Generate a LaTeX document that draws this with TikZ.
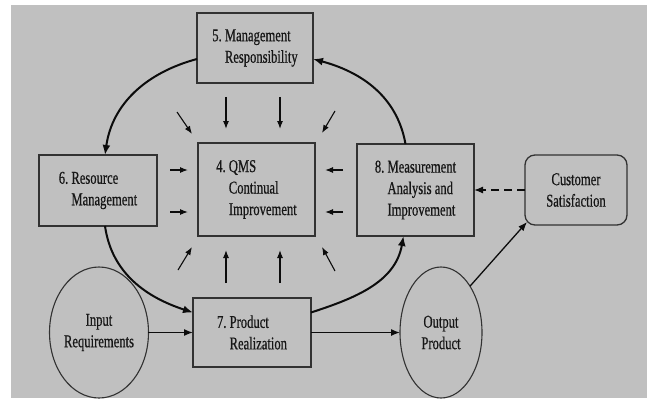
\documentclass[tikz,border=0pt]{standalone}
\usepackage{fontspec}
\setmainfont{Liberation Serif}[FakeStretch=0.70, FakeBold=0.6]
\usetikzlibrary{shapes.geometric,arrows.meta,calc}

\definecolor{bg}{RGB}{192,192,192}
\definecolor{boxline}{RGB}{50,50,50}
\definecolor{ink}{RGB}{22,22,22}
\definecolor{flow}{RGB}{12,12,12}

\begin{document}
\begin{tikzpicture}[x=1pt,y=-1pt,
  box/.style={draw=boxline, line width=1.3pt, inner sep=0pt, outer sep=0pt,
    align=left, text=ink, font=\fontsize{18}{21.5}\selectfont},
  oval/.style={box, ellipse, line width=1.1pt, align=center, minimum width=82pt, minimum height=131pt},
  cycle/.style={draw=flow, line width=2pt, -{Latex[length=10pt,width=8pt]}},
  link/.style={draw=flow, line width=1.3pt, -{Latex[length=9pt,width=7pt]}},
  push/.style={draw=flow, line width=1.1pt, -{Latex[length=8pt,width=6pt]}}]

% canvas
\fill[white] (0,0) rectangle (647,401);
\fill[bg] (11,5) rectangle (647,398);
\useasboundingbox (0,0) rectangle (647,401);

% process boxes
\node[box, minimum width=116pt, minimum height=70pt] (mgmt) at (255,48)
  {5.~Management\\\phantom{5.~}Responsibility};
\node[box, minimum width=118pt, minimum height=71pt] (res) at (98,190.5)
  {6.~Resource\\\phantom{6.~}Management};
\node[box, minimum width=117pt, minimum height=93pt] (qms) at (256.5,189.5)
  {4.~QMS\\\phantom{4.~}Continual\\\phantom{4.~}Improvement};
\node[box, minimum width=117pt, minimum height=92pt] (meas) at (415.5,190)
  {8.~Measurement\\\phantom{8.~}Analysis and\\\phantom{8.~}Improvement};
\node[box, minimum width=118pt, minimum height=69pt] (prod) at (252,332.5)
  {7.~Product\\\phantom{7.~}Realization};
\node[box, align=center, rounded corners=10pt, minimum width=102pt, minimum height=70pt]
  (cust) at (576,190) {Customer\\Satisfaction};

% inputs and outputs
\node[oval] (inp) at (99,332.5) {Input\\Requirements};
\node[oval] (outp) at (441,332.5) {Output\\Product};

% improvement cycle
\draw[cycle] ([yshift=-11pt]mgmt.west) to[out=195, in=82] ([xshift=7pt]res.north);
\draw[cycle] ([xshift=7pt]res.south) to[out=-82, in=162] ([yshift=20pt]prod.west);
\draw[cycle] ([yshift=20pt]prod.east) to[out=18, in=-100] ([xshift=-12pt]meas.south);
\draw[cycle] ([xshift=-10pt]meas.north) to[out=100, in=-15] ([yshift=-11pt]mgmt.east);

% flow of product
\draw[link] (inp.east) -- (prod.west);
\draw[link] (prod.east) -- (outp.west);
\draw[link] (outp.north east) -- ([xshift=2pt,yshift=3pt]cust.south west);
\draw[link, dash pattern=on 8pt off 5pt] (cust.west) -- (meas.east);

% contributions into continual improvement
\foreach \sx/\sy/\ex/\ey in {
  226/97/226/129, 280/97/280/129, 177/112/192/134, 335/111/322/133,
  170/170/188/170, 170/212/188/212, 343/170/325/170, 343/212/325/212,
  226/283/226/250, 280/283/280/250, 178/270/192/247, 335/271/322/247}
  \draw[push] (\sx,\sy) -- (\ex,\ey);
\end{tikzpicture}
\end{document}
